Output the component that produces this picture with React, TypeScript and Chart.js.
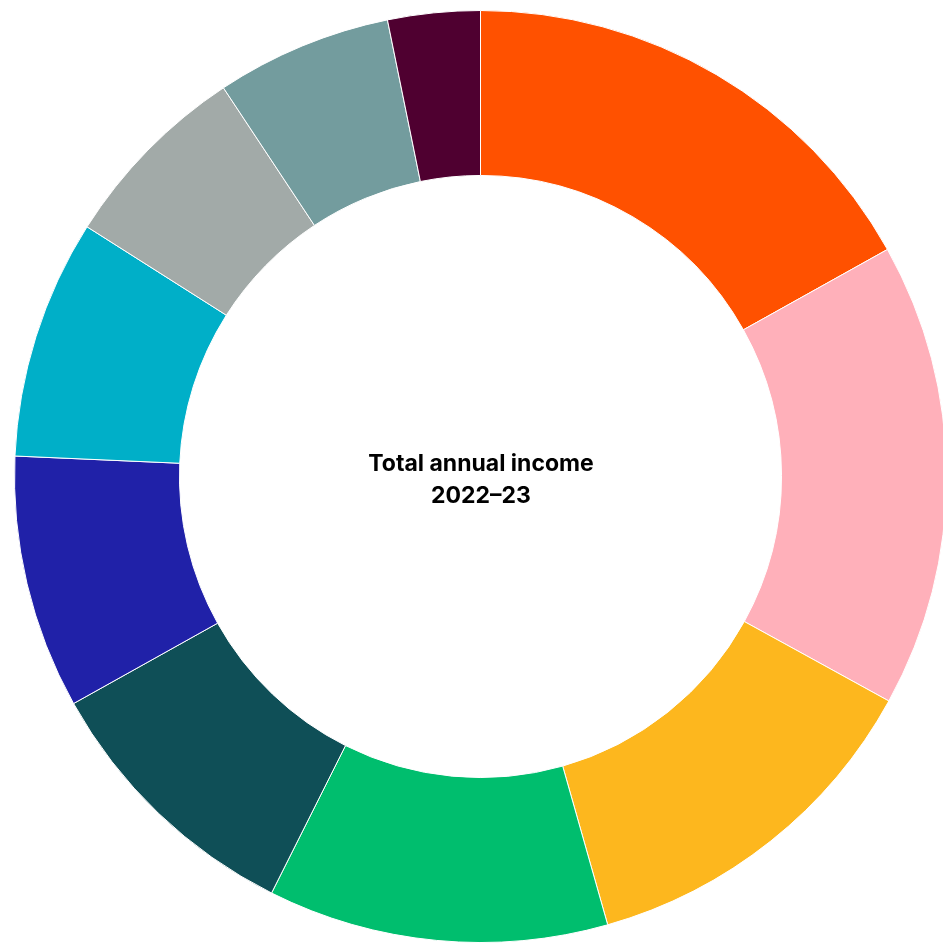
import React, { useEffect, useRef } from "react";
import { Chart, registerables } from "chart.js";

Chart.register(...registerables);

const categories = [
  "Segment 1",
  "Segment 2",
  "Segment 3",
  "Segment 4",
  "Segment 5",
  "Segment 6",
  "Segment 7",
  "Segment 8",
  "Segment 9",
  "Segment 10",
];
const shares = [16.9, 16.1, 12.6, 11.8, 9.5, 8.8, 8.3, 6.7, 6.1, 3.2];
const colors = [
  "#FF5100",
  "#FFB0BA",
  "#FDB71E",
  "#00BE6E",
  "#0F4F57",
  "#2021A8",
  "#00AFC8",
  "#A2AAA8",
  "#739C9E",
  "#4F0030",
];
const centerLines = ["Total annual income", "2022\u201323"];

export default function App() {
  const ref = useRef<HTMLCanvasElement | null>(null);

  useEffect(() => {
    document.body.style.margin = "0";
    const canvas = ref.current;
    if (!canvas) return;
    const chart = new Chart(canvas, {
      type: "doughnut",
      data: {
        labels: categories,
        datasets: [
          {
            data: shares,
            backgroundColor: colors,
            borderColor: "#ffffff",
            borderWidth: 1,
            hoverBorderWidth: 1,
            hoverOffset: 0,
          },
        ],
      },
      options: {
        responsive: false,
        animation: false,
        cutout: "64.6%",
        layout: { padding: { left: 14, top: 10, right: 1, bottom: 3 } },
        plugins: {
          legend: { display: false },
          tooltip: { enabled: false },
        },
      },
    });
    return () => chart.destroy();
  }, []);

  return (
    <div
      style={{
        position: "absolute",
        left: 0,
        top: 0,
        width: 943,
        height: 946,
        overflow: "hidden",
        background: "#ffffff",
      }}
    >
      <canvas ref={ref} width={948} height={946} style={{ display: "block" }} />
      <div
        style={{
          position: "absolute",
          left: 0,
          width: 962,
          top: 447,
          textAlign: "center",
          fontFamily: "Inter, 'Noto Sans', sans-serif",
          fontWeight: 700,
          fontSize: 23,
          lineHeight: "32px",
          color: "#000000",
          letterSpacing: "0px",
        }}
      >
        {centerLines.map((t) => (
          <div key={t}>{t}</div>
        ))}
      </div>
    </div>
  );
}
